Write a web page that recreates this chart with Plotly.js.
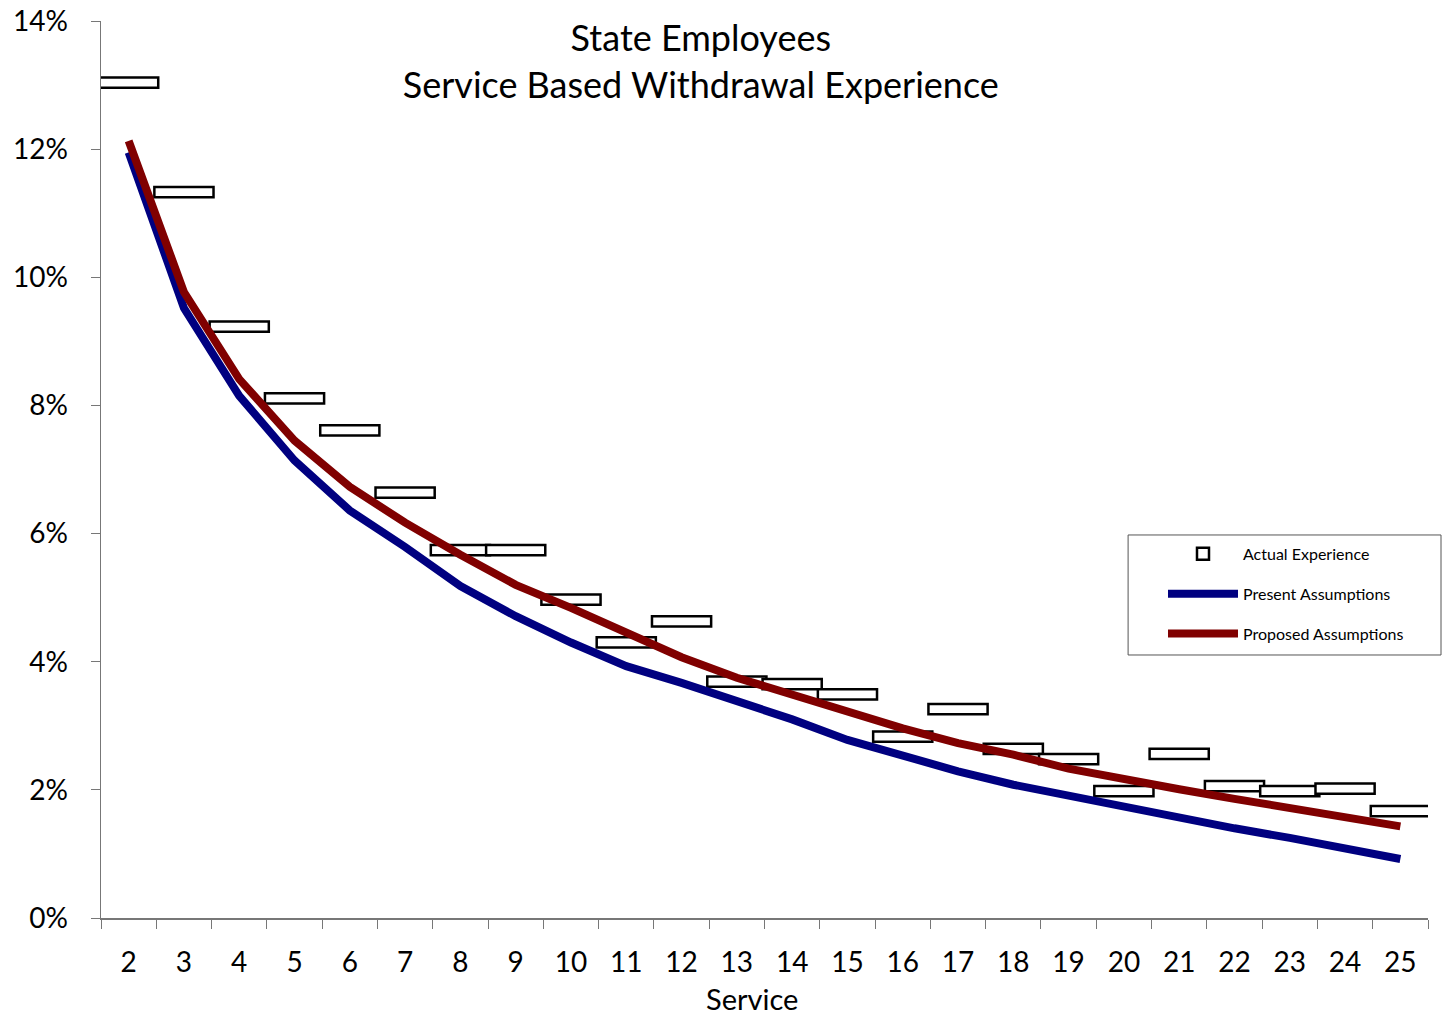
<!DOCTYPE html>
<html>
<head>
<meta charset="utf-8">
<script src="https://cdn.plot.ly/plotly-3.0.1.min.js"></script>
<style>
  html, body { margin: 0; padding: 0; background: #fff; }
  #chart { width: 1442px; height: 1016px; }
</style>
</head>
<body>
<div id="chart"></div>
<script>
// Years of service
const service = ['2','3','4','5','6','7','8','9','10','11','12','13','14','15','16','17','18','19','20','21','22','23','24','25'];

// Observed withdrawal rates (%)
const actualExperience = [13.04, 11.33, 9.23, 8.11, 7.61, 6.64, 5.74, 5.74, 4.97, 4.30, 4.63, 3.69,
                          3.65, 3.49, 2.83, 3.26, 2.64, 2.48, 1.98, 2.56, 2.06, 1.98, 2.02, 1.67];

// Assumed withdrawal rates (%)
const presentAssumptions = [11.95, 9.52, 8.15, 7.14, 6.36, 5.79, 5.18, 4.71, 4.30, 3.93, 3.67, 3.40,
                            3.10, 2.78, 2.52, 2.29, 2.08, 1.91, 1.73, 1.54, 1.40, 1.25, 1.09, 0.92];
const proposedAssumptions = [12.13, 9.77, 8.41, 7.45, 6.73, 6.17, 5.67, 5.20, 4.84, 4.45, 4.07, 3.75,
                             3.48, 3.22, 2.96, 2.73, 2.55, 2.33, 2.16, 2.01, 1.86, 1.72, 1.56, 1.43];

// Each observed rate is shown as a thin box centred on its value
const boxHeight = 0.16;
const boxBase = actualExperience.map(v => v - boxHeight / 2);

const fontFamily = 'Lato, "Open Sans", sans-serif';

const traces = [
  {
    type: 'bar',
    name: 'Actual Experience',
    x: service,
    y: actualExperience.map(() => boxHeight),
    base: boxBase,
    width: 1.07,
    marker: { color: '#ffffff', line: { color: '#000000', width: 2.5 } },
    legendgroup: 'a',
    hoverinfo: 'skip'
  },
  {
    type: 'scatter',
    mode: 'lines',
    name: 'Present Assumptions',
    x: service,
    y: presentAssumptions,
    line: { color: '#000080', width: 8 },
    legendgroup: 'b'
  },
  {
    type: 'scatter',
    mode: 'lines',
    name: 'Proposed Assumptions',
    x: service,
    y: proposedAssumptions,
    line: { color: '#800000', width: 8 },
    legendgroup: 'c'
  }
];

const layout = {
  width: 1442,
  height: 1016,
  paper_bgcolor: '#ffffff',
  plot_bgcolor: '#ffffff',
  margin: { l: 101, r: 14, t: 21, b: 98 },
  font: { family: fontFamily, color: '#000000' },
  showlegend: true,
  title: {
    text: 'State Employees<br>Service Based Withdrawal Experience',
    font: { family: fontFamily, size: 36, color: '#000000' },
    x: 0.486,
    xref: 'container',
    xanchor: 'center',
    y: 0.9495,
    yref: 'container',
    yanchor: 'top'
  },
  xaxis: {
    type: 'category',
    range: [-0.5, 23.5],
    showgrid: false,
    zeroline: false,
    showline: true,
    linecolor: '#777777',
    linewidth: 1.5,
    ticks: 'outside',
    tickson: 'boundaries',
    ticklen: 9,
    tickcolor: '#777777',
    tickfont: { size: 28, family: fontFamily },
    ticklabelstandoff: 19
  },
  yaxis: {
    range: [0, 14],
    dtick: 2,
    ticksuffix: '%',
    showgrid: false,
    zeroline: false,
    showline: true,
    linecolor: '#777777',
    linewidth: 1.5,
    ticks: 'outside',
    ticklen: 9,
    tickcolor: '#777777',
    tickfont: { size: 28, family: fontFamily },
    ticklabelstandoff: 17
  },
  annotations: [
    {
      text: 'Service',
      xref: 'paper', yref: 'paper',
      x: 0.4906, y: -0.0892,
      xanchor: 'center', yanchor: 'middle',
      showarrow: false,
      font: { size: 29, family: fontFamily, color: '#000000' }
    }
  ],
  shapes: [
    {
      // frame around the legend
      type: 'rect',
      xref: 'paper', yref: 'paper',
      x0: 0.774, x1: 1.0098, y0: 0.2932, y1: 0.427,
      line: { color: '#555555', width: 1 },
      fillcolor: '#ffffff',
      layer: 'above'
    }
  ],
  legend: {
    x: 0.8003,
    xanchor: 'left',
    y: 0.4248,
    yanchor: 'top',
    bgcolor: 'rgba(0,0,0,0)',
    borderwidth: 0,
    font: { size: 16, family: fontFamily },
    traceorder: 'grouped',
    tracegroupgap: 16,
    itemwidth: 70
  },
  bargap: 0
};

Plotly.newPlot('chart', traces, layout, { displayModeBar: false, staticPlot: true });
</script>
</body>
</html>
